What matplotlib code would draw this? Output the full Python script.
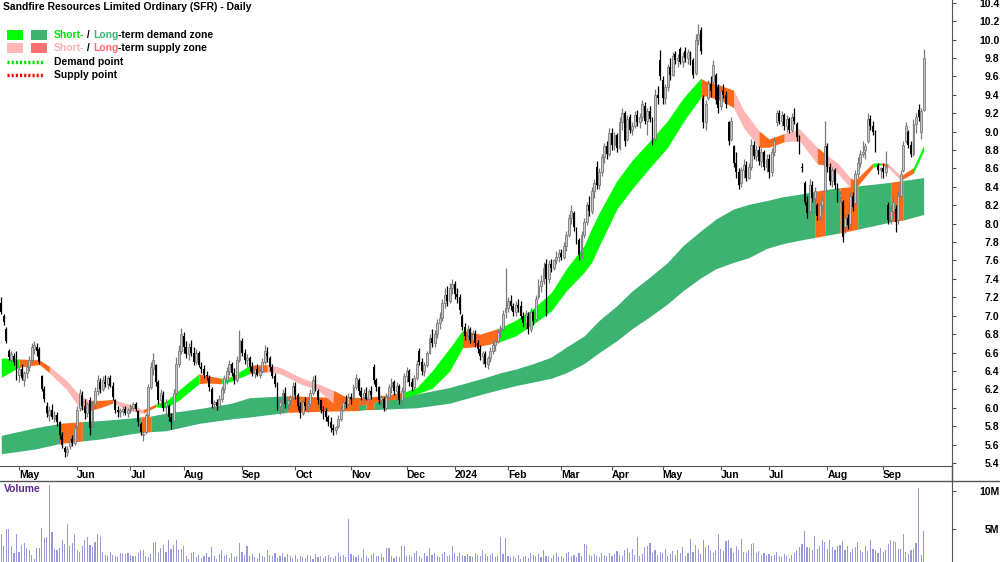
import numpy as np
import matplotlib.pyplot as plt
from matplotlib.lines import Line2D
from matplotlib.patches import Rectangle

plt.rcParams['font.family'] = ['Liberation Sans', 'DejaVu Sans']
plt.rcParams['font.weight'] = 'bold'

# daily candles (open, high, low, close), one list per month
apr23 = [(7.14, 7.20, 7.02, 7.04), (7.00, 7.02, 6.90, 6.93), (6.86, 6.88, 6.70, 6.72), (6.62, 6.64, 6.52, 6.55),
         (6.52, 6.62, 6.50, 6.58), (6.56, 6.60, 6.46, 6.50), (6.60, 6.62, 6.30, 6.34)]
may23 = [(6.36, 6.45, 6.28, 6.42), (6.42, 6.48, 6.30, 6.32), (6.30, 6.40, 6.24, 6.38), (6.38, 6.46, 6.32, 6.44),
         (6.44, 6.56, 6.40, 6.52), (6.52, 6.70, 6.50, 6.66), (6.64, 6.72, 6.58, 6.68), (6.66, 6.70, 6.56, 6.62),
         (6.64, 6.66, 6.48, 6.50), (6.34, 6.36, 6.18, 6.20), (6.20, 6.24, 6.06, 6.10), (6.02, 6.06, 5.90, 5.94),
         (5.92, 6.02, 5.86, 5.98), (5.98, 6.04, 5.88, 5.90), (5.88, 5.96, 5.84, 5.92), (5.92, 5.95, 5.80, 5.84),
         (5.84, 5.86, 5.66, 5.70), (5.70, 5.74, 5.56, 5.60), (5.56, 5.58, 5.47, 5.52), (5.52, 5.58, 5.48, 5.55),
         (5.58, 5.68, 5.55, 5.64), (5.66, 5.70, 5.58, 5.62), (5.62, 5.82, 5.60, 5.78)]
jun23 = [(5.80, 6.02, 5.78, 5.98), (6.00, 6.20, 5.96, 6.16), (6.14, 6.18, 5.98, 6.02), (6.02, 6.10, 5.88, 5.94),
         (5.94, 6.06, 5.90, 6.04), (6.08, 6.12, 5.70, 5.78), (5.80, 6.06, 5.78, 6.02), (6.04, 6.22, 6.00, 6.18),
         (6.18, 6.36, 6.14, 6.30), (6.28, 6.32, 6.16, 6.20), (6.20, 6.34, 6.18, 6.30), (6.28, 6.36, 6.22, 6.26),
         (6.26, 6.34, 6.20, 6.32), (6.32, 6.36, 6.22, 6.24), (6.24, 6.28, 6.08, 6.12), (6.08, 6.10, 5.94, 5.98),
         (5.98, 6.02, 5.90, 5.95), (5.95, 6.00, 5.90, 5.97), (5.96, 6.02, 5.92, 5.99), (5.99, 6.02, 5.92, 5.94),
         (5.94, 6.00, 5.90, 5.98)]
jul23 = [(5.98, 6.04, 5.94, 6.02), (6.00, 6.06, 5.98, 6.04), (6.04, 6.06, 5.96, 5.99), (5.96, 5.98, 5.80, 5.84),
         (5.82, 5.84, 5.70, 5.74), (5.70, 5.76, 5.64, 5.72), (5.74, 5.94, 5.72, 5.92), (5.92, 6.26, 5.90, 6.22),
         (6.22, 6.50, 6.20, 6.44), (6.42, 6.59, 6.36, 6.52), (6.46, 6.48, 6.24, 6.28), (6.28, 6.30, 6.04, 6.08),
         (6.08, 6.20, 6.02, 6.16), (6.14, 6.18, 5.96, 6.00), (6.02, 6.10, 5.92, 6.06), (6.02, 6.04, 5.86, 5.90),
         (5.90, 5.94, 5.77, 5.84), (5.86, 6.20, 5.84, 6.16), (6.16, 6.55, 6.14, 6.48), (6.48, 6.68, 6.44, 6.62),
         (6.62, 6.87, 6.58, 6.80)]
aug23 = [(6.78, 6.82, 6.60, 6.66), (6.66, 6.72, 6.54, 6.58), (6.58, 6.70, 6.52, 6.66), (6.66, 6.74, 6.56, 6.60),
         (6.60, 6.66, 6.46, 6.50), (6.50, 6.64, 6.48, 6.60), (6.60, 6.62, 6.44, 6.46), (6.44, 6.50, 6.38, 6.42),
         (6.42, 6.46, 6.32, 6.36), (6.36, 6.40, 6.30, 6.34), (6.32, 6.36, 6.18, 6.22), (6.20, 6.22, 6.00, 6.04),
         (6.04, 6.08, 5.98, 6.06), (6.06, 6.10, 5.98, 6.02), (6.02, 6.14, 6.00, 6.10), (6.10, 6.24, 6.06, 6.20),
         (6.20, 6.36, 6.16, 6.32), (6.30, 6.44, 6.26, 6.40), (6.40, 6.52, 6.36, 6.48), (6.48, 6.50, 6.34, 6.38),
         (6.38, 6.43, 6.26, 6.30), (6.30, 6.56, 6.28, 6.52), (6.52, 6.84, 6.50, 6.74)]
sep23 = [(6.72, 6.76, 6.56, 6.60), (6.60, 6.64, 6.48, 6.52), (6.52, 6.58, 6.44, 6.54), (6.54, 6.56, 6.40, 6.44),
         (6.44, 6.50, 6.34, 6.38), (6.38, 6.46, 6.32, 6.42), (6.42, 6.48, 6.34, 6.36), (6.36, 6.44, 6.32, 6.40),
         (6.40, 6.54, 6.38, 6.50), (6.50, 6.68, 6.48, 6.62), (6.60, 6.66, 6.50, 6.56), (6.54, 6.56, 6.40, 6.44),
         (6.44, 6.48, 6.32, 6.34), (6.34, 6.38, 6.22, 6.26), (6.24, 6.28, 5.98, 6.02), (6.02, 6.10, 5.93, 6.06),
         (6.06, 6.20, 5.94, 6.16), (6.16, 6.22, 6.00, 6.04), (6.04, 6.10, 5.98, 6.08), (6.08, 6.14, 6.02, 6.12),
         (6.12, 6.28, 6.10, 6.24)]
oct23 = [(6.24, 6.28, 6.10, 6.14), (6.14, 6.16, 5.98, 6.02), (6.02, 6.06, 5.89, 5.94), (5.94, 6.10, 5.92, 6.06),
         (6.06, 6.12, 5.98, 6.02), (6.02, 6.08, 5.95, 6.04), (6.04, 6.20, 6.02, 6.16), (6.16, 6.34, 6.14, 6.30),
         (6.34, 6.36, 6.18, 6.22), (6.18, 6.20, 6.04, 6.08), (6.08, 6.10, 5.94, 5.98), (5.98, 6.02, 5.88, 5.96),
         (5.96, 6.00, 5.86, 5.90), (5.90, 5.92, 5.80, 5.84), (5.84, 5.90, 5.74, 5.78), (5.78, 5.82, 5.70, 5.76),
         (5.76, 5.80, 5.72, 5.79), (5.80, 5.92, 5.78, 5.88), (5.88, 6.02, 5.86, 5.98), (5.98, 6.10, 5.96, 6.06),
         (6.06, 6.14, 6.00, 6.04), (6.04, 6.16, 6.02, 6.12)]
nov23 = [(6.12, 6.16, 6.04, 6.10), (6.10, 6.26, 6.08, 6.22), (6.22, 6.37, 6.20, 6.32), (6.30, 6.32, 6.14, 6.18),
         (6.18, 6.22, 6.08, 6.12), (6.12, 6.20, 6.06, 6.16), (6.16, 6.22, 6.08, 6.10), (6.10, 6.20, 6.06, 6.18),
         (6.18, 6.24, 6.10, 6.14), (6.44, 6.47, 6.26, 6.30), (6.30, 6.32, 6.18, 6.22), (6.22, 6.24, 6.04, 6.08),
         (6.08, 6.14, 6.02, 6.12), (6.10, 6.12, 5.96, 6.00), (6.00, 6.16, 5.98, 6.12), (6.12, 6.26, 6.10, 6.22),
         (6.22, 6.32, 6.16, 6.28), (6.28, 6.30, 6.14, 6.18), (6.18, 6.28, 6.12, 6.24), (6.24, 6.26, 6.04, 6.08),
         (6.08, 6.22, 6.02, 6.18), (6.18, 6.38, 6.16, 6.34)]
dec23 = [(6.34, 6.44, 6.28, 6.40), (6.40, 6.42, 6.24, 6.28), (6.28, 6.32, 6.18, 6.22), (6.22, 6.36, 6.20, 6.32),
         (6.32, 6.52, 6.30, 6.48), (6.62, 6.65, 6.46, 6.50), (6.50, 6.54, 6.36, 6.40), (6.40, 6.50, 6.34, 6.46),
         (6.46, 6.62, 6.44, 6.60), (6.60, 6.80, 6.58, 6.76), (6.76, 6.86, 6.66, 6.70), (6.70, 6.84, 6.66, 6.80),
         (6.80, 6.96, 6.76, 6.92), (6.92, 7.04, 6.86, 6.98), (6.98, 7.18, 6.94, 7.14), (7.14, 7.30, 7.08, 7.22),
         (7.22, 7.32, 7.10, 7.16), (7.16, 7.36, 7.14, 7.30), (7.30, 7.40, 7.24, 7.34)]
jan24 = [(7.34, 7.38, 7.18, 7.24), (7.24, 7.30, 7.14, 7.20), (7.20, 7.24, 7.02, 7.06), (7.00, 7.02, 6.84, 6.88),
         (6.88, 6.92, 6.74, 6.78), (6.78, 6.90, 6.72, 6.86), (6.86, 6.88, 6.70, 6.74), (6.74, 6.84, 6.68, 6.80),
         (6.80, 6.84, 6.66, 6.70), (6.70, 6.74, 6.60, 6.64), (6.64, 6.68, 6.52, 6.56), (6.56, 6.62, 6.48, 6.60),
         (6.58, 6.62, 6.44, 6.48), (6.48, 6.56, 6.42, 6.54), (6.54, 6.66, 6.50, 6.62), (6.62, 6.72, 6.58, 6.68),
         (6.68, 6.76, 6.62, 6.72), (6.72, 6.86, 6.70, 6.82), (6.82, 6.90, 6.76, 6.86), (6.86, 7.06, 6.84, 7.02),
         (7.04, 7.52, 6.98, 7.08)]
feb24 = [(7.08, 7.20, 7.04, 7.16), (7.16, 7.22, 7.06, 7.10), (7.10, 7.14, 7.00, 7.04), (7.04, 7.16, 7.00, 7.12),
         (7.12, 7.18, 7.04, 7.08), (7.10, 7.16, 6.96, 7.00), (7.00, 7.04, 6.88, 6.92), (6.92, 7.06, 6.86, 7.02),
         (7.00, 7.04, 6.80, 6.86), (6.86, 7.08, 6.82, 7.04), (7.04, 7.06, 6.90, 6.94), (6.96, 7.22, 6.94, 7.18),
         (7.20, 7.40, 7.18, 7.32), (7.32, 7.44, 7.26, 7.38), (7.38, 7.58, 7.34, 7.52), (7.56, 7.62, 7.00, 7.40),
         (7.40, 7.60, 7.36, 7.56), (7.56, 7.62, 7.48, 7.52), (7.52, 7.62, 7.50, 7.60), (7.60, 7.70, 7.56, 7.64),
         (7.64, 7.72, 7.58, 7.68)]
mar24 = [(7.68, 7.72, 7.60, 7.64), (7.64, 7.80, 7.62, 7.76), (7.76, 7.92, 7.70, 7.88), (7.88, 8.10, 7.86, 8.06),
         (8.06, 8.20, 8.00, 8.14), (8.12, 8.14, 7.92, 7.96), (7.94, 7.96, 7.78, 7.82), (7.82, 7.84, 7.60, 7.66),
         (7.66, 7.92, 7.62, 7.88), (7.88, 8.06, 7.84, 8.02), (8.02, 8.24, 7.98, 8.20), (8.20, 8.30, 8.08, 8.14),
         (8.14, 8.40, 8.10, 8.36), (8.36, 8.48, 8.28, 8.44), (8.62, 8.68, 8.38, 8.42), (8.42, 8.60, 8.38, 8.56),
         (8.56, 8.76, 8.52, 8.72), (8.72, 8.88, 8.66, 8.84), (8.84, 8.90, 8.70, 8.76), (8.76, 9.04, 8.74, 8.98)]
apr24 = [(8.98, 9.04, 8.80, 8.86), (8.86, 9.00, 8.80, 8.96), (8.96, 8.98, 8.78, 8.82), (8.82, 9.16, 8.80, 9.10),
         (9.10, 9.26, 9.02, 9.20), (9.20, 9.22, 8.84, 8.90), (8.92, 9.18, 8.90, 9.14), (9.16, 9.19, 8.98, 9.02),
         (9.02, 9.10, 8.96, 9.06), (9.06, 9.22, 9.04, 9.18), (9.18, 9.24, 9.06, 9.10), (9.10, 9.20, 9.04, 9.16),
         (9.16, 9.34, 9.12, 9.30), (9.28, 9.32, 9.08, 9.12), (9.12, 9.26, 8.96, 9.22), (9.22, 9.28, 9.10, 9.14),
         (9.14, 9.16, 8.86, 8.90), (8.92, 9.46, 8.90, 9.40), (9.40, 9.50, 9.30, 9.36), (9.78, 9.89, 9.56, 9.60)]
may24 = [(9.56, 9.60, 9.30, 9.36), (9.36, 9.52, 9.30, 9.48), (9.48, 9.74, 9.44, 9.70), (9.70, 9.80, 9.56, 9.62),
         (9.62, 9.86, 9.60, 9.82), (9.84, 9.88, 9.74, 9.78), (9.78, 9.84, 9.70, 9.80), (9.90, 9.92, 9.74, 9.76),
         (9.76, 9.86, 9.70, 9.82), (9.88, 9.92, 9.76, 9.80), (9.80, 9.90, 9.74, 9.86), (9.86, 9.88, 9.72, 9.76),
         (9.78, 9.80, 9.58, 9.62), (9.64, 10.06, 9.62, 10.00), (10.00, 10.17, 9.94, 10.06), (10.10, 10.14, 9.84, 9.88),
         (9.36, 9.40, 9.04, 9.10), (9.10, 9.34, 9.02, 9.30), (9.36, 9.56, 9.34, 9.52), (9.52, 9.60, 9.38, 9.44),
         (9.54, 9.78, 9.50, 9.72), (9.62, 9.64, 9.30, 9.34), (9.48, 9.52, 9.20, 9.26)]
jun24 = [(9.28, 9.50, 9.24, 9.44), (9.44, 9.52, 9.36, 9.40), (9.40, 9.44, 9.26, 9.30), (9.10, 9.12, 8.86, 8.90),
         (8.92, 9.16, 8.90, 9.12), (8.84, 8.86, 8.62, 8.66), (8.66, 8.78, 8.50, 8.56), (8.56, 8.60, 8.38, 8.42),
         (8.44, 8.62, 8.40, 8.58), (8.58, 8.70, 8.50, 8.64), (8.64, 8.68, 8.46, 8.50), (8.50, 8.66, 8.48, 8.62),
         (8.62, 8.92, 8.58, 8.86), (8.86, 8.90, 8.70, 8.74), (8.74, 8.86, 8.68, 8.80), (8.80, 8.84, 8.64, 8.68),
         (8.68, 8.82, 8.62, 8.78), (8.78, 8.80, 8.58, 8.62), (8.62, 8.76, 8.56, 8.70)]
jul24 = [(8.70, 8.76, 8.50, 8.56), (8.56, 8.82, 8.52, 8.78), (8.78, 8.94, 8.74, 8.90), (9.10, 9.24, 9.06, 9.20),
         (9.20, 9.24, 9.08, 9.12), (9.12, 9.22, 9.06, 9.18), (9.18, 9.20, 9.02, 9.06), (9.06, 9.18, 9.00, 9.14),
         (9.14, 9.16, 8.98, 9.02), (9.02, 9.20, 9.00, 9.16), (9.16, 9.26, 9.08, 9.12), (9.08, 9.10, 8.90, 8.94),
         (8.94, 8.96, 8.76, 8.80), (8.62, 8.66, 8.56, 8.60), (8.44, 8.46, 8.20, 8.24), (8.24, 8.30, 8.06, 8.12),
         (8.14, 8.48, 8.10, 8.42), (8.42, 8.46, 8.24, 8.28), (8.28, 8.40, 8.12, 8.36), (8.20, 8.22, 8.04, 8.08),
         (8.08, 8.24, 8.04, 8.20), (8.20, 8.30, 8.12, 8.26), (8.36, 9.12, 8.34, 8.84)]
aug24 = [(8.84, 8.88, 8.56, 8.62), (8.62, 8.66, 8.42, 8.46), (8.46, 8.62, 8.40, 8.58), (8.58, 8.60, 8.38, 8.42),
         (8.40, 8.44, 8.24, 8.30), (8.30, 8.36, 8.24, 8.32), (8.24, 8.26, 7.80, 7.86), (7.96, 8.10, 7.90, 8.06),
         (8.06, 8.10, 7.94, 7.98), (8.00, 8.34, 7.98, 8.30), (8.30, 8.34, 8.14, 8.18), (8.22, 8.58, 8.20, 8.54),
         (8.54, 8.72, 8.50, 8.66), (8.66, 8.80, 8.62, 8.76), (8.76, 8.90, 8.72, 8.78), (8.80, 8.88, 8.70, 8.84),
         (8.90, 9.20, 8.88, 9.14), (9.14, 9.18, 9.02, 9.06), (9.06, 9.12, 8.96, 9.00), (9.00, 9.02, 8.78, 8.82),
         (8.64, 8.66, 8.54, 8.58), (8.58, 8.62, 8.50, 8.60)]
sep24 = [(8.60, 8.66, 8.50, 8.56), (8.56, 8.79, 8.52, 8.62), (8.20, 8.24, 8.00, 8.04), (8.04, 8.20, 8.00, 8.14),
         (8.14, 8.30, 8.08, 8.24), (8.16, 8.20, 7.91, 8.02), (8.04, 8.36, 8.00, 8.30), (8.30, 8.58, 8.28, 8.54),
         (8.58, 8.90, 8.56, 8.86), (8.90, 9.10, 8.88, 9.06), (9.00, 9.02, 8.82, 8.86), (8.86, 8.90, 8.72, 8.76),
         (8.76, 9.14, 8.74, 9.08), (9.08, 9.20, 8.98, 9.16), (9.24, 9.30, 9.12, 9.16), (9.00, 9.26, 8.92, 9.22),
         (9.24, 9.90, 9.22, 9.80)]

months = [apr23, may23, jun23, jul23, aug23, sep23, oct23, nov23, dec23,
          jan24, feb24, mar24, apr24, may24, jun24, jul24, aug24, sep24]
month_labels = ['', 'May', 'Jun', 'Jul', 'Aug', 'Sep', 'Oct', 'Nov', 'Dec',
                '2024', 'Feb', 'Mar', 'Apr', 'May', 'Jun', 'Jul', 'Aug', 'Sep']

# daily volume, millions of shares
volume_m = [
    4.4, 2.8, 5.0, 5.0, 2.8, 1.9, 4.4, 2.0, 2.9, 3.2,
    2.5, 2.2, 1.6, 1.1, 2.5, 2.5, 5.1, 3.8, 3.9, 10.8,
    4.6, 2.4, 2.2, 2.5, 3.5, 3.0, 5.7, 2.7, 3.1, 4.3,
    2.3, 2.0, 2.7, 3.6, 3.9, 2.9, 2.6, 3.3, 4.3, 3.9,
    2.0, 1.6, 1.5, 2.0, 1.6, 1.5, 1.3, 1.8, 1.9, 1.7,
    1.8, 1.6, 1.5, 1.4, 1.8, 2.2, 2.2, 1.5, 1.3, 1.7,
    3.2, 3.3, 1.9, 2.5, 2.9, 2.0, 3.5, 2.4, 2.9, 3.6,
    2.2, 2.4, 2.7, 1.5, 1.1, 1.9, 2.0, 1.3,
    1.6, 1.2, 1.4, 1.9, 1.3, 2.6, 1.5, 1.1, 1.7, 2.3,
    1.4, 1.6, 1.2, 1.8, 1.3, 1.5, 3.2, 2.0, 1.6, 2.8,
    1.4, 1.7, 1.3, 1.2, 1.9, 1.5, 1.3, 2.2, 1.6, 1.4,
    1.8, 1.2, 1.5, 1.9, 1.3, 1.7, 1.4, 1.2, 1.6, 1.1,
    1.5, 1.3, 1.2, 1.6, 1.4, 1.1, 1.7, 1.3, 1.5, 1.2,
    1.4, 1.6, 1.3, 1.2, 1.5, 1.8, 1.4, 1.6, 1.3, 6.3,
    1.7, 1.5, 1.3, 1.6, 1.2, 2.4, 1.4, 1.2, 1.6, 1.8,
    1.5, 1.4, 1.7, 1.3, 2.5, 2.5, 1.4, 1.2, 1.5, 1.3,
    2.7, 2.7, 1.4, 1.6, 1.3, 1.9, 2.1, 1.5, 1.2, 1.8,
    1.4, 2.5, 1.6, 1.9, 1.5, 1.3, 1.7, 2.0, 1.4, 1.6,
    2.7, 1.8, 1.5, 1.9, 1.6, 1.4, 1.7, 1.5, 1.3, 1.8,
    1.6, 1.4, 2.3, 1.7, 1.5, 1.6, 1.9, 1.3, 1.5, 4.0,
    1.7, 3.8, 1.5, 1.3, 1.4, 1.2, 1.6, 1.1, 1.3, 1.5,
    1.2, 1.9, 1.6, 1.4, 1.7, 1.3, 2.2, 1.5, 1.4, 1.2,
    1.6, 1.8, 1.3, 1.5, 1.2, 1.9, 2.0, 1.4, 1.6, 1.3,
    1.8, 1.5, 3.0, 2.9, 1.6, 1.4, 1.7, 1.5, 1.3, 1.8,
    1.6, 1.4, 1.9, 1.5, 1.7, 2.1, 1.6, 1.4, 2.3, 2.5,
    1.8, 2.4, 1.6, 3.9, 1.5, 1.7, 2.6, 2.8, 3.1, 1.9,
    2.2, 1.6, 2.0, 1.8, 2.4, 1.5, 1.7, 2.1, 1.6, 2.3,
    1.9, 2.6, 1.5, 1.8, 3.7, 2.0, 2.9, 2.4, 1.7, 3.6,
    2.6, 2.9, 2.3, 1.8, 2.2, 4.3, 2.4, 2.1, 3.4, 3.5,
    2.5, 1.9, 2.7, 2.2, 3.7, 2.0, 1.8, 2.3, 3.0, 3.1,
    1.9, 2.1, 1.6, 1.8, 1.5, 1.7, 1.4, 1.6, 2.0, 1.5,
    1.3, 1.7, 1.4, 1.2, 1.6, 1.8, 2.3, 2.6, 3.0, 4.7,
    2.6, 2.5, 2.2, 4.1, 2.4, 2.7, 3.5, 3.3, 2.4, 3.5,
    2.6, 2.3, 2.8, 2.9, 3.4, 2.2, 2.7, 2.0, 2.4, 2.6,
    3.3, 2.3, 2.0, 2.7, 2.1, 3.6, 2.4, 2.2, 1.8, 2.5,
    2.0, 2.2, 3.0, 3.5, 3.4, 3.3, 2.4, 2.4, 4.3, 2.0,
    1.7, 2.2, 2.4, 3.1, 10.4, 1.6, 4.7,
]

# short-term zone: bar index, upper and lower edge, state of each stretch
short_idx = [0, 7, 15, 19, 26, 31, 35, 39, 44, 50,
             56, 61, 65, 70, 78, 81, 87, 91, 98, 105,
             110, 118, 125, 131, 136, 142, 150, 159, 164, 170,
             177, 182, 189, 196, 203, 210, 217, 223, 230, 233,
             236, 243, 249, 256, 263, 269, 276, 278, 284, 289,
             293, 299, 303, 309, 315, 322, 326, 330, 335, 337,
             344, 347, 350, 355, 360, 364]
short_top = [6.54, 6.53, 6.52, 6.45, 6.29, 6.13, 6.08, 6.08, 6.09, 6.04,
             5.98, 6.04, 6.07, 6.19, 6.37, 6.35, 6.32, 6.34, 6.46, 6.47,
             6.44, 6.33, 6.26, 6.19, 6.12, 6.11, 6.13, 6.17, 6.22, 6.40,
             6.65, 6.84, 6.80, 6.86, 6.95, 7.08, 7.25, 7.51, 7.76, 7.95,
             8.12, 8.47, 8.69, 8.90, 9.12, 9.36, 9.58, 9.55, 9.50, 9.45,
             9.23, 9.01, 8.92, 8.98, 9.03, 8.83, 8.74, 8.66, 8.50, 8.47,
             8.66, 8.66, 8.65, 8.52, 8.61, 8.85]
short_bot = [6.33, 6.44, 6.47, 6.38, 6.19, 5.99, 5.97, 6.00, 6.05, 5.97,
             5.94, 6.01, 6.00, 6.08, 6.26, 6.27, 6.26, 6.29, 6.37, 6.39,
             6.37, 6.26, 6.19, 6.05, 6.03, 6.03, 6.07, 6.11, 6.15, 6.21,
             6.40, 6.65, 6.67, 6.71, 6.78, 6.91, 7.05, 7.27, 7.47, 7.58,
             7.76, 8.16, 8.38, 8.61, 8.83, 9.10, 9.37, 9.39, 9.34, 9.26,
             9.04, 8.83, 8.83, 8.89, 8.90, 8.65, 8.63, 8.55, 8.39, 8.38,
             8.61, 8.64, 8.61, 8.47, 8.55, 8.79]
short_state = ['up', 'touch', 'touch', 'down', 'down', 'down', 'touch', 'touch', 'down', 'down',
               'touch', 'up', 'up', 'up', 'touch', 'touch', 'up', 'up', 'touch', 'down',
               'down', 'down', 'down', 'touch', 'touch', 'touch', 'touch', 'up', 'up', 'up',
               'up', 'touch', 'touch', 'up', 'up', 'up', 'up', 'up', 'up', 'up',
               'up', 'up', 'up', 'up', 'up', 'up', 'touch', 'touch', 'touch', 'down',
               'down', 'touch', 'touch', 'down', 'down', 'touch', 'down', 'down', 'touch', 'touch',
               'up', 'touch', 'down', 'touch', 'up']

# long-term zone
long_idx = [0, 13, 23, 32, 39, 52, 55, 59, 65, 78,
            91, 98, 113, 125, 141, 144, 147, 164, 177, 190,
            197, 203, 210, 217, 223, 230, 236, 243, 249, 256,
            263, 269, 276, 282, 289, 295, 302, 308, 315, 321,
            325, 331, 338, 348, 351, 356, 364]
long_top = [5.70, 5.78, 5.83, 5.85, 5.86, 5.89, 5.90, 5.91, 5.94, 5.99,
            6.05, 6.11, 6.13, 6.12, 6.10, 6.10, 6.11, 6.15, 6.22, 6.32,
            6.38, 6.42, 6.48, 6.55, 6.66, 6.78, 6.95, 7.11, 7.27, 7.42,
            7.58, 7.76, 7.92, 8.05, 8.16, 8.21, 8.25, 8.29, 8.32, 8.35,
            8.37, 8.39, 8.41, 8.44, 8.45, 8.47, 8.50]
long_bot = [5.50, 5.55, 5.61, 5.64, 5.66, 5.72, 5.73, 5.74, 5.75, 5.83,
            5.88, 5.90, 5.95, 5.96, 5.97, 5.98, 5.98, 6.00, 6.05, 6.15,
            6.20, 6.24, 6.28, 6.32, 6.38, 6.48, 6.60, 6.73, 6.86, 6.99,
            7.13, 7.27, 7.41, 7.51, 7.58, 7.63, 7.73, 7.78, 7.82, 7.85,
            7.87, 7.90, 7.94, 8.00, 8.02, 8.04, 8.10]
long_state = ['up', 'up', 'touch', 'up', 'up', 'up', 'touch', 'up', 'up', 'up',
              'up', 'up', 'touch', 'touch', 'up', 'touch', 'up', 'up', 'up', 'up',
              'up', 'up', 'up', 'up', 'up', 'up', 'up', 'up', 'up', 'up',
              'up', 'up', 'up', 'up', 'up', 'up', 'up', 'up', 'up', 'touch',
              'up', 'touch', 'up', 'up', 'touch', 'up']

short_colors = {'up': '#00ff00', 'down': '#ffb6b6', 'touch': '#ff6a1a'}
long_colors = {'up': '#3cb371', 'down': '#ff7070', 'touch': '#ff6a1a'}

ohlc = np.array([bar for m in months for bar in m])
o, h, l, c = ohlc.T
x = np.arange(len(c))
volume = np.array(volume_m) * 1e6
starts = np.cumsum([0] + [len(m) for m in months])[:-1]

fig = plt.figure(figsize=(10, 5.62), dpi=100)
W, H = 1000, 562
ax = fig.add_axes([0, 1 - 466 / H, 952 / W, 466 / H])
axv = fig.add_axes([0, 0, 952 / W, 81 / H])


def draw_zone(idx, top, bot, states, colors, z):
    idx, top, bot = np.array(idx), np.array(top), np.array(bot)
    start = 0
    for k in range(1, len(states) + 1):
        if k == len(states) or states[k] != states[start]:
            sl = slice(start, k + 1)
            ax.fill_between(idx[sl], bot[sl], top[sl], color=colors[states[start]],
                            lw=0, zorder=z)
            start = k


draw_zone(long_idx, long_top, long_bot, long_state, long_colors, 1)
draw_zone(short_idx, short_top, short_bot, short_state, short_colors, 2)

# candles
up = c >= o
ax.vlines(x[up], l[up], h[up], color='#7a7a7a', lw=0.9, zorder=3)
ax.vlines(x[~up], l[~up], h[~up], color='black', lw=0.9, zorder=3)
ax.bar(x[up], (c - o)[up], bottom=o[up], width=0.75, facecolor='#c8c8c8',
       edgecolor='#7a7a7a', lw=0.6, zorder=4)
ax.bar(x[~up], (c - o)[~up], bottom=o[~up], width=0.75, color='black', lw=0, zorder=4)

xl = (-0.5, 375.2)
ax.set_xlim(*xl)
ax.set_ylim(5.367, 10.43)
for s in ['top', 'left']:
    ax.spines[s].set_visible(False)
for s in ['right', 'bottom']:
    ax.spines[s].set_color('#555555')
ax.yaxis.tick_right()
yt = np.round(np.arange(5.4, 10.41, 0.2), 1)
ax.set_yticks(yt)
ax.set_yticklabels(['%.1f' % v for v in yt])
ax.tick_params(axis='y', direction='out', length=3, color='#555555', labelsize=7.5, pad=31)
for t in ax.get_yticklabels():
    t.set_horizontalalignment('right')
ax.set_xticks(starts[1:])
ax.set_xticklabels(month_labels[1:], ha='left')
ax.tick_params(axis='x', direction='out', length=3, color='#555555', labelsize=7.5, pad=0)

# volume
axv.bar(x, volume, width=0.45, color='#9a9ad8', lw=0)
axv.set_xlim(*xl)
axv.set_ylim(0.66e6, 11.3e6)
for s in ['top', 'left', 'bottom']:
    axv.spines[s].set_visible(False)
axv.spines['right'].set_color('#555555')
axv.yaxis.tick_right()
axv.set_yticks([5e6, 10e6])
axv.set_yticklabels(['5M', '10M'])
axv.tick_params(axis='y', direction='out', length=3, color='#555555', labelsize=7.5, pad=31)
for t in axv.get_yticklabels():
    t.set_horizontalalignment('right')
axv.set_xticks([])
axv.text(0.004, 0.9, 'Volume', transform=axv.transAxes, color='#5b2a8a',
         fontsize=7.5, va='center', ha='left')

# frame lines between panels
fig.add_artist(Line2D([0, 1], [1 - 480.5 / H] * 2, color='#555555', lw=1))
fig.add_artist(Line2D([952 / W] * 2, [1 - 466 / H, 1 - 480.5 / H], color='#555555', lw=1))

# title and legend
fig.text(3 / W, 1 - 7 / H, 'Sandfire Resources Limited Ordinary (SFR) - Daily',
         fontsize=7.5, va='center', ha='left')


def fy(y):
    return 1 - y / H


def swatch(x0, y0, color):
    fig.add_artist(Rectangle((x0 / W, fy(y0 + 5)), 16 / W, 10 / H, color=color, lw=0))


def colored_line(y, pieces):
    t = fig.text(54 / W, fy(y), pieces[0][0], color=pieces[0][1], fontsize=7.5, va='center')
    for txt, col in pieces[1:]:
        t = ax.annotate(txt, xy=(1, 0), xycoords=t, color=col, fontsize=7.5,
                        va='bottom', ha='left', annotation_clip=False)


swatch(7, 35, short_colors['up'])
swatch(31, 35, long_colors['up'])
colored_line(35, [('Short-', '#00e600'), (' / ', 'black'), ('Long', '#3cb371'),
                  ('-term demand zone', 'black')])
swatch(7, 48, short_colors['down'])
swatch(31, 48, long_colors['down'])
colored_line(48, [('Short-', '#ffb0b0'), (' / ', 'black'), ('Long', '#ff6a6a'),
                  ('-term supply zone', 'black')])
fig.add_artist(Line2D([7 / W, 44 / W], [fy(62)] * 2, color='#00dd00', lw=2.5,
                      linestyle=(0, (0.6, 0.6))))
fig.text(54 / W, fy(62), 'Demand point', fontsize=7.5, va='center')
fig.add_artist(Line2D([7 / W, 44 / W], [fy(75)] * 2, color='#ff0000', lw=2.5,
                      linestyle=(0, (0.6, 0.6))))
fig.text(54 / W, fy(75), 'Supply point', fontsize=7.5, va='center')

fig.savefig('out.png', dpi=100)
